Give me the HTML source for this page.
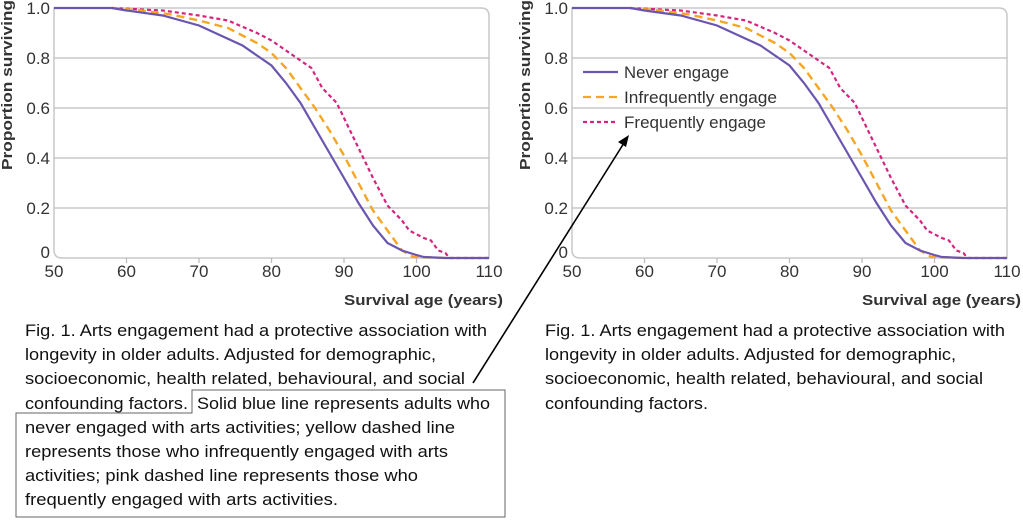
<!DOCTYPE html>
<html><head><meta charset="utf-8"><style>
html,body{margin:0;padding:0;background:#fff;overflow:hidden;}
svg{display:block;font-family:"Liberation Sans",sans-serif;}
.t{font-size:17px;fill:#333;}
.c{font-size:16.5px;fill:#111;}
.b{font-size:15px;font-weight:bold;fill:#333;}
</style></head><body>
<svg width="1023" height="523" viewBox="0 0 1023 523">
<defs>
<g id="plot">
  <path d="M0,8 H427 Q435,8 435,16 V258 H8 Q0,258 0,250 Z" fill="none" stroke="#c8c8c8" stroke-width="1.5"/>
  <g stroke="#bdbdbd" stroke-width="1.3">
    <line x1="0" x2="435" y1="58" y2="58"/><line x1="0" x2="435" y1="108" y2="108"/>
    <line x1="0" x2="435" y1="158" y2="158"/><line x1="0" x2="435" y1="208" y2="208"/>
    <line x1="72.5" x2="72.5" y1="258" y2="263"/><line x1="145" x2="145" y1="258" y2="263"/>
    <line x1="217.5" x2="217.5" y1="258" y2="263"/><line x1="290" x2="290" y1="258" y2="263"/>
    <line x1="362.5" x2="362.5" y1="258" y2="263"/>
  </g>
  <g transform="translate(-362.5,258) scale(7.25,-250)" fill="none">
    <polyline vector-effect="non-scaling-stroke" stroke="#d6247c" stroke-width="2.2" stroke-dasharray="4,3" points="58,1 65,0.99 70,0.97 74,0.95 78,0.9 80,0.87 82,0.83 84,0.79 85.5,0.76 87,0.68 89,0.62 90,0.56 92,0.44 93,0.38 94,0.32 96,0.21 98,0.15 99,0.11 101,0.08 102,0.07 103,0.03 104,0.02 104.5,0 110,0"/>
    <polyline vector-effect="non-scaling-stroke" stroke="#f5a623" stroke-width="2.4" stroke-dasharray="8,5" points="58,1 62,0.99 66,0.975 70,0.95 74,0.92 78,0.86 80,0.82 82,0.76 84,0.68 86,0.6 88,0.51 90,0.41 92,0.3 94,0.19 96,0.11 97,0.07 98,0.03 99.5,0.005 104,0"/>
    <polyline vector-effect="non-scaling-stroke" stroke="#6a55b0" stroke-width="2.2" points="50,1 58,1 60,0.99 65,0.97 70,0.93 73,0.89 76,0.85 78,0.81 80,0.77 82,0.7 84,0.62 86,0.52 88,0.42 90,0.32 92,0.22 94,0.13 96,0.06 98,0.03 100,0.012 101,0.004 104,0 110,0"/>
  </g>
  <g class="t" text-anchor="middle">
    <text x="0" y="277">50</text><text x="72.5" y="277">60</text><text x="145" y="277">70</text>
    <text x="217.5" y="277">80</text><text x="290" y="277">90</text><text x="362.5" y="277">100</text><text x="435" y="277">110</text>
  </g>
  <g class="t" text-anchor="end">
    <text x="-4" y="14">1.0</text><text x="-4" y="64">0.8</text><text x="-4" y="114">0.6</text>
    <text x="-4" y="164">0.4</text><text x="-4" y="214">0.2</text><text x="-4" y="258">0</text>
  </g>
  <text class="b" x="449" y="305" text-anchor="end" textLength="159" lengthAdjust="spacingAndGlyphs">Survival age (years)</text>
  <text class="b" transform="translate(-42,85) rotate(-90)" text-anchor="middle" textLength="170" lengthAdjust="spacingAndGlyphs">Proportion surviving</text>
</g>
</defs>
<use href="#plot" x="54"/>
<use href="#plot" x="572"/>
<g stroke-width="2.2" fill="none">
<line x1="583" x2="618" y1="72" y2="72" stroke="#6a55b0"/>
<line x1="583" x2="618" y1="97" y2="97" stroke="#f5a623" stroke-dasharray="8,5"/>
<line x1="583" x2="618" y1="122" y2="122" stroke="#d6247c" stroke-dasharray="4,3"/>
</g>
<g class="t">
<text x="624" y="78" textLength="105" lengthAdjust="spacingAndGlyphs">Never engage</text>
<text x="624" y="103" textLength="153" lengthAdjust="spacingAndGlyphs">Infrequently engage</text>
<text x="624" y="128" textLength="142" lengthAdjust="spacingAndGlyphs">Frequently engage</text>
</g>
<line x1="473" y1="383" x2="624" y2="143" stroke="#000" stroke-width="1.6"/>
<polygon points="629,135 618,142 626,147" fill="#000"/>
<path d="M192,390 H505 V517 H16 V413 H192 Z" fill="none" stroke="#666" stroke-width="1"/>
<g class="c">
<text x="25" y="336" textLength="462" lengthAdjust="spacingAndGlyphs">Fig. 1. Arts engagement had a protective association with</text>
<text x="25" y="360" textLength="411" lengthAdjust="spacingAndGlyphs">longevity in older adults. Adjusted for demographic,</text>
<text x="25" y="384" textLength="440" lengthAdjust="spacingAndGlyphs">socioeconomic, health related, behavioural, and social</text>
<text x="25" y="409" textLength="163" lengthAdjust="spacingAndGlyphs">confounding factors.</text>
<text x="197" y="409" textLength="293" lengthAdjust="spacingAndGlyphs">Solid blue line represents adults who</text>
<text x="25" y="433" textLength="430" lengthAdjust="spacingAndGlyphs">never engaged with arts activities; yellow dashed line</text>
<text x="25" y="457" textLength="423" lengthAdjust="spacingAndGlyphs">represents those who infrequently engaged with arts</text>
<text x="25" y="481" textLength="393" lengthAdjust="spacingAndGlyphs">activities; pink dashed line represents those who</text>
<text x="25" y="505" textLength="313" lengthAdjust="spacingAndGlyphs">frequently engaged with arts activities.</text>
<text x="545" y="336" textLength="460" lengthAdjust="spacingAndGlyphs">Fig. 1. Arts engagement had a protective association with</text>
<text x="545" y="360" textLength="411" lengthAdjust="spacingAndGlyphs">longevity in older adults. Adjusted for demographic,</text>
<text x="545" y="384" textLength="438" lengthAdjust="spacingAndGlyphs">socioeconomic, health related, behavioural, and social</text>
<text x="545" y="409" textLength="163" lengthAdjust="spacingAndGlyphs">confounding factors.</text>
</g>
</svg>
</body></html>
